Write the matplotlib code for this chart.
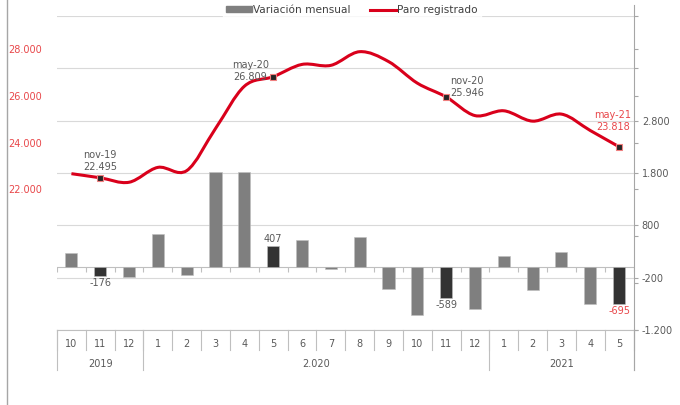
import numpy as np
import matplotlib
matplotlib.use("Agg")
import matplotlib.pyplot as plt
from matplotlib.path import Path
from matplotlib.patches import PathPatch, Patch
from matplotlib.lines import Line2D
from matplotlib.ticker import FuncFormatter
import matplotlib.transforms as mtransforms

# datos
meses = ['10', '11', '12', '1', '2', '3', '4', '5', '6', '7', '8', '9',
         '10', '11', '12', '1', '2', '3', '4', '5']
anios = ['2019', '2.020', '2021']
meses_por_anio = [3, 12, 5]
variacion = [280, -176, -190, 635, -140, 1810, 1812, 407, 525, -40,
             583, -420, -922, -589, -796, 205, -442, 300, -700, -695]
paro = [22671, 22495, 22305, 22940, 22800, 24600, 26402, 26809, 27334, 27294,
        27877, 27457, 26535, 25946, 25150, 25355, 24913, 25213, 24513, 23818]
destacados = [1, 7, 13, 19]
etiquetas = {1: 'nov-19', 7: 'may-20', 13: 'nov-20', 19: 'may-21'}

ROJO = '#d9001b'
ROJO_TXT = '#e8474a'
GRIS = '#7f7f7f'
OSCURO = '#333333'
TXT = '#595959'

plt.rcParams['font.family'] = 'DejaVu Sans'


def miles(v, pos=None):
    s = '{:,.0f}'.format(v).replace(',', '.')
    return s


fig = plt.figure(figsize=(6.8, 4.05), dpi=100)
ax = fig.add_axes([57 / 680, 75 / 405, 576.5 / 680, 314 / 405])
ax2 = ax.twinx()
ax.set_zorder(ax2.get_zorder() + 1)
ax.patch.set_visible(False)

x = np.arange(len(meses))

# barras (eje derecho)
colores = [OSCURO if i in destacados else GRIS for i in x]
ax2.bar(x, variacion, width=0.42, color=colores, edgecolor='#bfbfbf', linewidth=0.4, zorder=3)
ax2.set_ylim(-1200, 4800)
ax2.set_yticks(np.arange(-1200, 4801, 1000))
ax2.yaxis.set_major_formatter(FuncFormatter(lambda v, p: miles(v) if v <= 2800 else ''))
ax2.grid(axis='y', color='#d9d9d9', linewidth=0.8, zorder=0)
ax2.axhline(0, color='#bfbfbf', linewidth=0.8, zorder=2)
ax2.vlines(np.arange(len(meses) + 1) - 0.5, -90, 0, color='#bfbfbf', linewidth=0.8, zorder=2)
ax2.tick_params(axis='y', colors='#a6a6a6', labelcolor=TXT, labelsize=7, length=3, pad=3)

# linea suavizada (eje izquierdo)
pts = np.column_stack([x, paro]).astype(float)
ext = np.vstack([pts[0], pts, pts[-1]])
verts = [tuple(pts[0])]
codes = [Path.MOVETO]
for i in range(len(pts) - 1):
    p0, p1, p2, p3 = ext[i], ext[i + 1], ext[i + 2], ext[i + 3]
    c1 = p1 + (p2 - p0) / 6
    c2 = p2 - (p3 - p1) / 6
    verts += [tuple(c1), tuple(c2), tuple(p2)]
    codes += [Path.CURVE4] * 3
ax.add_patch(PathPatch(Path(verts, codes), fill=False, edgecolor=ROJO, linewidth=2.2, zorder=4))
ax.plot(x[destacados], np.array(paro)[destacados], linestyle='none', marker='s',
        markersize=4.5, markerfacecolor='#262626', markeredgecolor='#f08080',
        markeredgewidth=0.8, zorder=5)

ax.set_xlim(-0.5, len(meses) - 0.5)
ax.set_ylim(16000, 29400)
ax.set_yticks([16000, 18000, 20000, 22000, 24000, 26000, 28000])
ax.yaxis.set_major_formatter(FuncFormatter(lambda v, p: miles(v) if v >= 22000 else ''))
ax.tick_params(axis='y', left=False, right=True, labelleft=True, labelright=False,
               colors='#a6a6a6', labelcolor=ROJO_TXT, labelsize=7, length=3, pad=8)
ax.set_xticks([])
for a in (ax, ax2):
    a.spines['top'].set_visible(False)
    a.spines['left'].set_visible(False)
    a.spines['right'].set_visible(False)
    a.spines['bottom'].set_visible(False)

# etiquetas de la linea
desp = {1: (0, 17), 7: (-23, 6), 13: (21, 10), 19: (-6, 26)}
for i in destacados:
    col = ROJO_TXT if i == 19 else TXT
    ax.annotate(etiquetas[i] + '\n' + miles(paro[i]), (x[i], paro[i]), xytext=desp[i],
                textcoords='offset pixels', ha='center', va='center', fontsize=7,
                color=col, linespacing=1.25, zorder=6)

# etiquetas de barras
for i in destacados:
    v = variacion[i]
    col = ROJO_TXT if i == 19 else TXT
    ax2.annotate(miles(v), (x[i], v), xytext=(0, 2 if v > 0 else -2),
                 textcoords='offset pixels', ha='center',
                 va='bottom' if v > 0 else 'top', fontsize=7, color=col, zorder=6)

# tabla de categorias
tr = mtransforms.blended_transform_factory(ax.transData, ax.transAxes)
lin = dict(color='#bfbfbf', linewidth=0.8, clip_on=False, transform=tr)
ax.plot([-0.5, len(meses) - 0.5], [0, 0], **lin)
for i, m in enumerate(meses):
    ax.text(i, -0.045, m, transform=tr, ha='center', va='center', fontsize=7, color=TXT)
for b in range(len(meses) + 1):
    ax.plot([b - 0.5, b - 0.5], [0, -0.064], **lin)
ini = 0
for a, n in zip(anios, meses_por_anio):
    ax.plot([ini - 0.5, ini - 0.5], [0, -0.127], **lin)
    ax.text(ini + (n - 1) / 2, -0.108, a, transform=tr, ha='center', va='center',
            fontsize=7, color=TXT)
    ini += n
ax.plot([ini - 0.5, ini - 0.5], [0, -0.127], **lin)

# ejes exteriores
fig.add_artist(Line2D([633.5 / 680, 633.5 / 680], [400 / 405, 35 / 405], color='#a6a6a6', linewidth=0.8))
fig.add_artist(Line2D([7 / 680, 7 / 680], [0, 1], color='#a6a6a6', linewidth=1.0))

# leyenda
handles = [Patch(facecolor=GRIS, edgecolor=GRIS), Line2D([], [], color=ROJO, linewidth=2.2)]
leg = fig.legend(handles, ['Variación mensual', 'Paro registrado'], loc='center',
                 bbox_to_anchor=(352 / 680, 395 / 405), ncol=2, frameon=True, fontsize=7.6,
                 handlelength=2.5, handleheight=0.5, handletextpad=0.1, columnspacing=1.8,
                 borderpad=0.3, labelcolor='#404040')
leg.get_frame().set_facecolor('white')
leg.get_frame().set_edgecolor('white')

fig.savefig('out.png', dpi=100)
